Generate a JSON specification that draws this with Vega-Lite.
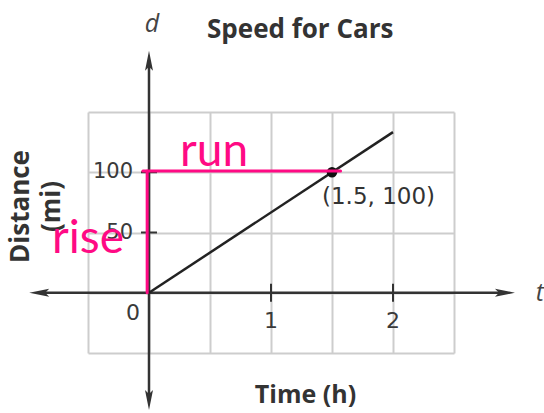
{
  "$schema": "https://vega.github.io/schema/vega-lite/v6.json",
  "width": 366,
  "height": 241,
  "autosize": {"type": "none"},
  "padding": {"left": 88, "top": 112, "right": 90, "bottom": 60},
  "background": "white",
  "title": {
    "text": "Speed for Cars",
    "frame": "group",
    "anchor": "start",
    "dx": 119,
    "offset": 0,
    "dy": 52,
    "baseline": "alphabetic",
    "font": "Open Sans",
    "fontSize": 26,
    "fontWeight": "bold",
    "color": "#333333"
  },
  "config": {"view": {"stroke": null}},
  "datasets": {
    "axisLines": [
      {"name": "t", "time": -0.88, "time2": 2.9, "distance": 0, "distance2": 0},
      {"name": "d", "time": 0, "time2": 0, "distance": -88, "distance2": 190}
    ],
    "arrowHeads": [
      {"dir": "left", "time": -0.9, "distance": 0},
      {"dir": "right", "time": 2.918, "distance": 0},
      {"dir": "up", "time": 0, "distance": 192.5},
      {"dir": "down", "time": 0, "distance": -89}
    ],
    "timeTicks": [
      {"time": 1, "distance": 0, "label": "1"},
      {"time": 2, "distance": 0, "label": "2"}
    ],
    "distanceTicks": [
      {"time": 0, "distance": 50, "label": "50"},
      {"time": 0, "distance": 100, "label": "100"}
    ],
    "origin": [{"time": 0, "distance": 0, "label": "0"}],
    "speed": [
      {"time": 0, "distance": 0},
      {"time": 2, "distance": 133.3}
    ],
    "marked": [{"time": 1.5, "distance": 100, "label": "(1.5, 100)"}],
    "variables": [
      {"time": 0, "distance": 223, "label": "d"},
      {"time": 3.18, "distance": 0, "label": "t"}
    ],
    "riseRun": [
      {"part": "rise", "time": -0.015, "time2": -0.015, "distance": 0, "distance2": 101},
      {"part": "run", "time": -0.05, "time2": 1.57, "distance": 101, "distance2": 101}
    ],
    "notes": [
      {"time": 0.533, "distance": 105, "label": "run"},
      {"time": -0.5, "distance": 33, "label": "rise"}
    ]
  },
  "encoding": {
    "x": {
      "field": "time",
      "type": "quantitative",
      "scale": {"domain": [-0.5, 2.5], "nice": false, "zero": false},
      "axis": {
        "values": [-0.5, 0, 0.5, 1, 1.5, 2, 2.5],
        "grid": true,
        "gridColor": "#cdcdcd",
        "gridWidth": 2,
        "labels": false,
        "ticks": false,
        "domain": false,
        "title": "Time (h)",
        "titleFont": "Open Sans",
        "titleFontSize": 25,
        "titleFontWeight": "bold",
        "titleColor": "#333333",
        "titleX": 217,
        "titleY": 49,
        "titleAlign": "center",
        "titleBaseline": "alphabetic"
      }
    },
    "y": {
      "field": "distance",
      "type": "quantitative",
      "scale": {"domain": [-50, 150], "nice": false, "zero": false},
      "axis": {
        "values": [-50, 0, 50, 100, 150],
        "grid": true,
        "gridColor": "#cdcdcd",
        "gridWidth": 2,
        "labels": false,
        "ticks": false,
        "domain": false,
        "title": ["Distance", "(mi)"],
        "titleFont": "Open Sans",
        "titleFontSize": 26,
        "titleFontWeight": "bold",
        "titleColor": "#333333",
        "titleLineHeight": 31,
        "titleAngle": -90,
        "titleX": -81,
        "titleY": 94,
        "titleAlign": "center",
        "titleBaseline": "top"
      }
    }
  },
  "layer": [
    {
      "data": {"name": "axisLines"},
      "mark": {"type": "rule", "color": "#333333", "strokeWidth": 2.5},
      "encoding": {
        "x2": {"field": "time2"},
        "y2": {"field": "distance2"}
      }
    },
    {
      "data": {"name": "arrowHeads"},
      "mark": {"type": "point", "filled": true, "opacity": 1, "size": 400, "color": "#333333"},
      "encoding": {
        "shape": {
          "field": "dir",
          "type": "nominal",
          "legend": null,
          "scale": {
            "domain": ["up", "down", "left", "right"],
            "range": [
              "M-0.4,1L0,-1L0.4,1L0,0.6Z",
              "M-0.4,-1L0,1L0.4,-1L0,-0.6Z",
              "M1,-0.4L-1,0L1,0.4L0.6,0Z",
              "M-1,-0.4L1,0L-1,0.4L-0.6,0Z"
            ]
          }
        }
      }
    },
    {
      "data": {"name": "timeTicks"},
      "mark": {"type": "tick", "orient": "vertical", "size": 18, "thickness": 2, "color": "#333333", "opacity": 1}
    },
    {
      "data": {"name": "distanceTicks"},
      "mark": {"type": "tick", "orient": "horizontal", "size": 16, "thickness": 2, "color": "#333333", "opacity": 1}
    },
    {
      "data": {"name": "timeTicks"},
      "mark": {"type": "text", "font": "DejaVu Sans", "fontSize": 22, "color": "#3a3a3a", "align": "center", "baseline": "middle", "dy": 28},
      "encoding": {"text": {"field": "label"}}
    },
    {
      "data": {"name": "distanceTicks"},
      "mark": {"type": "text", "font": "DejaVu Sans", "fontSize": 21, "color": "#3a3a3a", "align": "right", "baseline": "middle", "dx": -16},
      "encoding": {"text": {"field": "label"}}
    },
    {
      "data": {"name": "origin"},
      "mark": {"type": "text", "font": "DejaVu Sans", "fontSize": 22, "color": "#3a3a3a", "align": "center", "baseline": "middle", "dx": -16, "dy": 20},
      "encoding": {"text": {"field": "label"}}
    },
    {
      "data": {"name": "variables"},
      "mark": {"type": "text", "font": "Open Sans", "fontStyle": "italic", "fontSize": 25, "color": "#444444", "align": "center", "baseline": "middle", "dx": 3},
      "encoding": {"text": {"field": "label"}}
    },
    {
      "data": {"name": "speed"},
      "mark": {"type": "line", "color": "#222222", "strokeWidth": 2.5}
    },
    {
      "data": {"name": "marked"},
      "mark": {"type": "point", "filled": true, "opacity": 1, "size": 110, "color": "#111111"}
    },
    {
      "data": {"name": "marked"},
      "mark": {"type": "text", "font": "DejaVu Sans", "fontSize": 23, "color": "#333333", "align": "left", "baseline": "middle", "dx": -10, "dy": 25},
      "encoding": {"text": {"field": "label"}}
    },
    {
      "data": {"name": "riseRun"},
      "mark": {"type": "rule", "color": "#ff0a84", "strokeWidth": 3, "strokeCap": "round"},
      "encoding": {
        "x2": {"field": "time2"},
        "y2": {"field": "distance2"}
      }
    },
    {
      "data": {"name": "notes"},
      "mark": {"type": "text", "font": "Lato", "fontWeight": 400, "fontSize": 46, "color": "#ff0a84", "align": "center", "baseline": "alphabetic"},
      "encoding": {"text": {"field": "label"}}
    }
  ]
}
